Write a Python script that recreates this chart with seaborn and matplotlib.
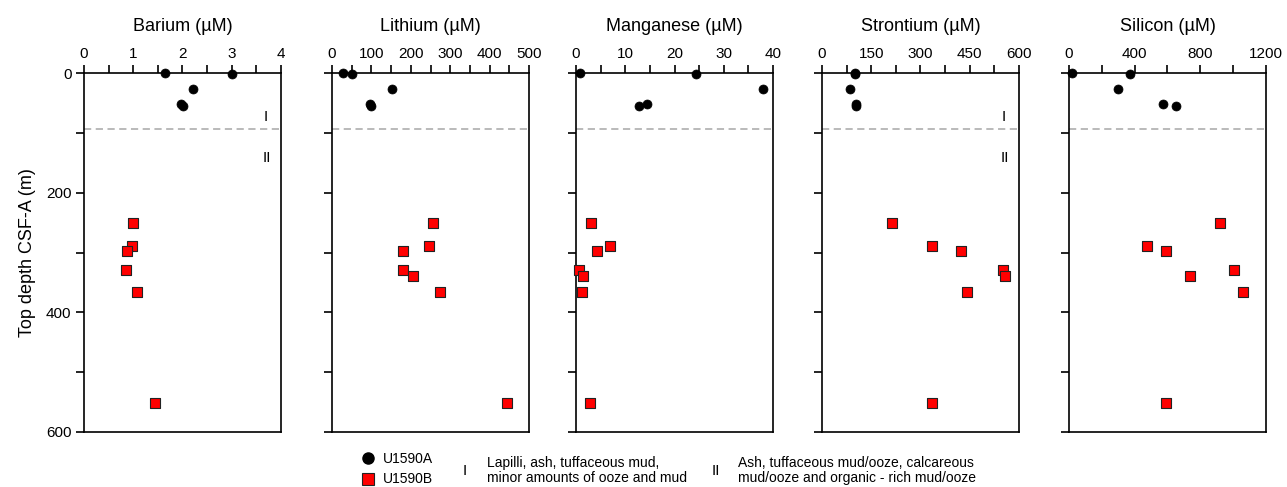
import numpy as np
import pandas as pd
import matplotlib
matplotlib.use("Agg")
import matplotlib.pyplot as plt
import seaborn as sns
from matplotlib.lines import Line2D

# sample depths (m CSF-A)
depth_a = [0.5, 2, 26, 52, 55]
depth_b = [251, 289, 298, 330, 340, 366, 551]

# pore water concentrations (uM)
barium_a = [1.65, 3.0, 2.22, 1.96, 2.02]
barium_b = [0.99, 0.98, 0.87, 0.85, np.nan, 1.07, 1.45]
lithium_a = [27, 50, 152, 97, 98]
lithium_b = [257, 247, 180, 180, 205, 274, 444]
manganese_a = [0.8, 24.3, 38.0, 14.5, 12.7]
manganese_b = [3.0, 6.9, 4.2, 0.5, 1.5, 1.2, 2.8]
strontium_a = [101, 101, 86, 103, 104]
strontium_b = [213, 335, 422, 552, 559, 442, 335]
silicon_a = [16, 370, 300, 573, 650]
silicon_b = [921, 476, 593, 1008, 735, 1063, 593]

titles = ["Barium (µM)", "Lithium (µM)", "Manganese (µM)", "Strontium (µM)", "Silicon (µM)"]
unit_boundary = 94
unit_I = "Lapilli, ash, tuffaceous mud,\nminor amounts of ooze and mud"
unit_II = "Ash, tuffaceous mud/ooze, calcareous\nmud/ooze and organic - rich mud/ooze"

df_a = pd.DataFrame({"depth": depth_a, "Barium": barium_a, "Lithium": lithium_a,
                     "Manganese": manganese_a, "Strontium": strontium_a, "Silicon": silicon_a})
df_b = pd.DataFrame({"depth": depth_b, "Barium": barium_b, "Lithium": lithium_b,
                     "Manganese": manganese_b, "Strontium": strontium_b, "Silicon": silicon_b})

sns.set_style("ticks")
plt.rcParams['font.family'] = ['Liberation Sans', 'DejaVu Sans']
plt.rcParams.update({'axes.linewidth': 1.2, 'axes.edgecolor': 'black', 'xtick.color': 'black',
                     'ytick.color': 'black', 'text.color': 'black', 'axes.labelcolor': 'black'})

# column, xmax, tick step, label step
panels = [("Barium", 4, 0.5, 1), ("Lithium", 500, 50, 100), ("Manganese", 40, 5, 10),
          ("Strontium", 600, 75, 150), ("Silicon", 1200, 200, 400)]
lefts = [0.0653, 0.258, 0.4476, 0.6387, 0.8306]

fig = plt.figure(figsize=(12.87, 4.87), dpi=100)
for i, (col, xmax, step, lab_step) in enumerate(panels):
    ax = fig.add_axes([lefts[i], 0.113, 0.153, 0.737])
    ax.axhline(unit_boundary, color='#b4b4b4', ls=(0, (4, 2.5)), lw=1.3, zorder=1)
    sns.scatterplot(data=df_a, x=col, y="depth", marker="o", s=42, color="black",
                    edgecolor="black", linewidth=0.5, ax=ax, clip_on=False, zorder=3)
    sns.scatterplot(data=df_b, x=col, y="depth", marker="s", s=60, color="#ff0000",
                    edgecolor="#222222", linewidth=0.8, ax=ax, clip_on=False, zorder=3)
    ax.set_xlim(0, xmax)
    ax.set_ylim(600, 0)
    ax.xaxis.tick_top()
    ticks = np.arange(0, xmax + step / 2, step)
    ax.set_xticks(ticks)
    ax.set_xticklabels([f"{t:g}" if abs(t / lab_step - round(t / lab_step)) < 1e-6 else "" for t in ticks])
    ax.set_yticks(np.arange(0, 601, 100))
    ax.tick_params(axis='both', direction='out', length=6, width=1.2, labelsize=11, pad=3)
    ax.set_title(titles[i], fontsize=13, pad=11)
    ax.set_xlabel("")
    if i == 0:
        ax.set_yticklabels(["0", "", "200", "", "400", "", "600"])
        ax.set_ylabel("Top depth CSF-A (m)", fontsize=13, labelpad=7)
    else:
        ax.set_yticklabels([])
        ax.set_ylabel("")
    if i in (0, 3):
        tr = ax.get_yaxis_transform()
        ax.text(0.925, 74, "I", transform=tr, ha='center', va='center', fontsize=11)
        ax.text(0.93, 142, "II", transform=tr, ha='center', va='center', fontsize=11)
    for s in ax.spines.values():
        s.set_visible(True)
        s.set_linewidth(1.2)
        s.set_color('black')

handles = [Line2D([], [], ls='none', marker='o', ms=8, color='black'),
           Line2D([], [], ls='none', marker='s', ms=8, markerfacecolor='#ff0000',
                  markeredgecolor='#222222', markeredgewidth=0.8)]
fig.legend(handles, ["U1590A", "U1590B"], loc='center left', bbox_to_anchor=(361 / 1287, 1 - 469 / 487),
           frameon=False, fontsize=10, handlelength=1.0, handletextpad=0.55, labelspacing=0.5,
           borderpad=0, borderaxespad=0)
fig.text(465 / 1287, 1 - 471 / 487, "I", ha='center', va='center', fontsize=11)
fig.text(487 / 1287, 1 - 470.5 / 487, unit_I, ha='left', va='center', fontsize=10, linespacing=1.05)
fig.text(716 / 1287, 1 - 471 / 487, "II", ha='center', va='center', fontsize=11)
fig.text(738 / 1287, 1 - 470.5 / 487, unit_II, ha='left', va='center', fontsize=10, linespacing=1.05)

fig.savefig("out.png", dpi=100)
